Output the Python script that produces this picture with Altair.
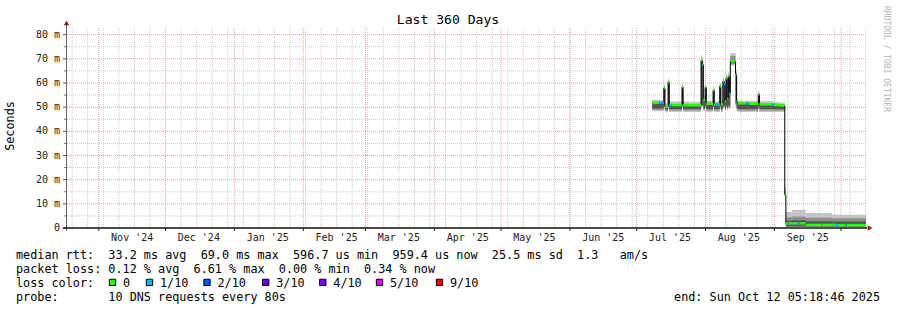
import altair as alt
import pandas as pd

START = pd.Timestamp("2024-10-17 05:18:46")
SPAN_DAYS = 360

# ---------------- data ----------------
times = [
    "2025-07-08 00:00:00", "2025-07-11 00:00:00", "2025-07-13 06:00:00", "2025-07-13 18:00:00",
    "2025-07-15 04:00:00", "2025-07-15 16:00:00", "2025-07-16 18:00:00", "2025-07-21 10:00:00",
    "2025-07-21 22:00:00", "2025-07-30 00:00:00", "2025-07-30 12:00:00", "2025-07-31 00:00:00",
    "2025-07-31 20:00:00", "2025-08-01 08:00:00", "2025-08-04 10:00:00", "2025-08-04 22:00:00",
    "2025-08-05 12:00:00", "2025-08-07 00:00:00", "2025-08-07 10:00:00", "2025-08-07 22:00:00",
    "2025-08-08 20:00:00", "2025-08-09 08:00:00", "2025-08-09 20:00:00", "2025-08-10 06:00:00",
    "2025-08-10 18:00:00", "2025-08-11 06:00:00", "2025-08-11 18:00:00", "2025-08-12 04:00:00",
    "2025-08-14 12:00:00", "2025-08-15 00:00:00", "2025-08-15 12:00:00", "2025-08-19 12:00:00",
    "2025-08-20 12:00:00", "2025-08-24 18:00:00", "2025-08-25 06:00:00", "2025-08-31 06:00:00",
    "2025-08-31 22:00:00", "2025-09-03 00:00:00", "2025-09-05 16:00:00", "2025-09-06 04:00:00",
    "2025-09-07 00:00:00", "2025-09-07 12:00:00", "2025-09-09 00:00:00", "2025-09-11 12:00:00",
    "2025-09-12 06:00:00", "2025-09-15 00:00:00", "2025-09-22 00:00:00", "2025-09-22 12:00:00",
    "2025-09-27 00:00:00", "2025-09-28 06:00:00", "2025-09-29 18:00:00", "2025-10-03 00:00:00",
    "2025-10-03 12:00:00", "2025-10-12 05:18:46",
]
median_ms = [
    51.8, 51.9, 57.9, 50.3, 60.3, 50.9, 50.9, 58.3, 50.8, 69.4, 67.6, 53.0,
    58.2, 51.4, 57.0, 51.1, 51.1, 51.1, 58.6, 51.3, 60.7, 59.4, 52.5, 62.0,
    53.5, 62.7, 55.8, 69.0, 63.6, 52.4, 51.6, 51.6, 51.4, 55.2, 51.2, 51.0,
    50.9, 50.7, 13.8, 1.9, 1.9, 1.9, 1.9, 1.9, 1.9, 1.3, 1.3, 1.3,
    1.3, 1.2, 1.2, 1.2, 1.2, 1.2,
]
loss_tenths = [
    0, 1, 0, 0, 0, 1, 0, 0, 0, 0, 1, 0,
    0, 0, 0, 0, 1, 0, 0, 0, 0, 1, 0, 0,
    0, 0, 1, 0, 0, 0, 0, 1, 0, 0, 0, 1,
    0, 0, 0, 0, 1, 0, 0, 1, 0, 0, 1, 0,
    0, 1, 0, 1, 0, 0,
]
smoke_light_lo = [
    48.3, 48.3, 49.5, 47.9, 49.5, 48.0, 48.0, 49.5, 48.0, 50.0, 50.0, 48.5,
    49.5, 48.0, 49.5, 48.0, 48.0, 48.0, 49.5, 48.0, 49.5, 49.5, 48.5, 49.8,
    48.8, 49.8, 49.3, 67.2, 50.5, 48.5, 48.0, 48.0, 48.0, 49.3, 48.0, 48.0,
    48.0, 48.0, 12.8, 0.6, 0.6, 0.6, 0.6, 0.6, 0.6, 0.6, 0.6, 0.6,
    0.6, 0.6, 0.6, 0.6, 0.6, 0.6,
]
smoke_light_hi = [
    53.0, 53.0, 59.4, 51.6, 61.8, 52.3, 52.3, 59.8, 52.2, 71.5, 69.5, 54.5,
    59.7, 52.6, 58.5, 52.4, 52.4, 52.4, 60.1, 52.5, 62.2, 60.9, 54.0, 63.8,
    55.0, 64.5, 57.5, 72.4, 65.5, 53.8, 52.7, 52.7, 52.6, 56.7, 52.4, 52.2,
    52.1, 51.9, 17.0, 6.6, 6.6, 6.6, 7.6, 7.6, 7.6, 6.2, 6.2, 6.2,
    5.5, 5.5, 5.5, 5.5, 5.5, 5.5,
]
smoke_mid_lo = [
    48.9, 48.9, 50.0, 48.5, 50.0, 48.6, 48.6, 50.0, 48.6, 50.5, 50.5, 49.0,
    50.0, 48.6, 50.0, 48.6, 48.6, 48.6, 50.0, 48.6, 50.0, 50.0, 49.0, 50.3,
    49.3, 50.3, 49.8, 67.8, 51.0, 49.0, 48.6, 48.6, 48.6, 49.8, 48.6, 48.6,
    48.6, 48.6, 13.2, 0.6, 0.6, 0.6, 0.6, 0.6, 0.6, 0.6, 0.6, 0.6,
    0.6, 0.6, 0.6, 0.6, 0.6, 0.6,
]
smoke_mid_hi = [
    52.2, 52.2, 58.7, 50.8, 61.0, 51.3, 51.3, 59.0, 51.2, 70.4, 68.5, 53.6,
    58.9, 51.8, 57.7, 51.5, 51.5, 51.5, 59.3, 51.7, 61.4, 60.1, 53.2, 62.8,
    54.2, 63.5, 56.6, 71.3, 64.5, 53.0, 52.0, 52.0, 51.8, 55.9, 51.6, 51.4,
    51.3, 51.1, 15.8, 4.4, 4.4, 4.4, 4.8, 4.8, 4.8, 4.2, 4.2, 4.2,
    4.0, 4.0, 4.0, 4.0, 4.0, 4.0,
]
smoke_dark_lo = [
    49.5, 49.5, 50.6, 49.1, 50.6, 49.2, 49.2, 50.6, 49.2, 51.0, 51.0, 49.6,
    50.6, 49.2, 50.6, 49.2, 49.2, 49.2, 50.6, 49.2, 50.6, 50.6, 49.6, 50.8,
    49.8, 50.8, 50.3, 68.3, 51.5, 49.6, 49.2, 49.2, 49.2, 50.3, 49.2, 49.2,
    49.2, 49.2, 13.5, 0.6, 0.6, 0.6, 0.6, 0.6, 0.6, 0.6, 0.6, 0.6,
    0.6, 0.6, 0.6, 0.6, 0.6, 0.6,
]
smoke_dark_hi = [
    51.6, 51.7, 57.9, 50.2, 60.3, 50.8, 50.8, 58.3, 50.7, 69.4, 67.6, 52.9,
    58.2, 51.3, 57.0, 51.0, 51.0, 51.0, 58.6, 51.2, 60.7, 59.4, 52.4, 62.0,
    53.4, 62.7, 55.7, 69.0, 63.6, 52.3, 51.5, 51.5, 51.3, 55.2, 51.1, 50.9,
    50.8, 50.6, 14.6, 3.0, 3.0, 3.0, 3.2, 3.2, 3.2, 2.8, 2.8, 2.8,
    2.7, 2.7, 2.7, 2.7, 2.7, 2.7,
]

month_starts = ["2024-11-01", "2024-12-01", "2025-01-01", "2025-02-01", "2025-03-01",
                "2025-04-01", "2025-05-01", "2025-06-01", "2025-07-01", "2025-08-01",
                "2025-09-01", "2025-10-01"]
month_labels = ["Nov '24", "Dec '24", "Jan '25", "Feb '25", "Mar '25", "Apr '25",
                "May '25", "Jun '25", "Jul '25", "Aug '25", "Sep '25"]
y_major = [0, 10, 20, 30, 40, 50, 60, 70, 80]
y_major_labels = ["0", "10 m", "20 m", "30 m", "40 m", "50 m", "60 m", "70 m", "80 m"]
y_minor = [5, 15, 25, 35, 45, 55, 65, 75]

loss_legend_labels = ["0", "1/10", "2/10", "3/10", "4/10", "5/10", "9/10"]
loss_legend_colors = ["#26ff00", "#00b8ff", "#0059ff", "#5e00ff", "#7e00ff", "#dd00ff", "#ff0000"]
loss_levels = [0, 1, 2, 3, 4, 5, 9]

legend_lines = [
    "median rtt:  33.2 ms avg  69.0 ms max  596.7 us min  959.4 us now  25.5 ms sd  1.3   am/s",
    "packet loss: 0.12 % avg  6.61 % max  0.00 % min  0.34 % now",
    "loss color:",
    "probe:       10 DNS requests every 80s",
]
end_text = "end: Sun Oct 12 05:18:46 2025"
title_text = "Last 360 Days"
y_title = "Seconds"
watermark = "RRDTOOL / TOBI OETIKER"

# ---------------- layout / style ----------------
W, H = 800, 200
PAD_L, PAD_T = 66, 28
MONO = "DejaVu Sans Mono"
legend_label_x = [123, 160, 217.5, 276.2, 333.3, 390, 450]


def to_days(values):
    ts = pd.to_datetime(pd.Series(list(values)).astype(str), format="mixed")
    return ((ts - START) / pd.Timedelta(days=1)).tolist()


def nb(s):
    return s.replace(" ", "\u00a0")


df = pd.DataFrame({
    "d": to_days(times), "median": median_ms, "loss": loss_tenths,
    "l_lo": smoke_light_lo, "l_hi": smoke_light_hi,
    "m_lo": smoke_mid_lo, "m_hi": smoke_mid_hi,
    "k_lo": smoke_dark_lo, "k_hi": smoke_dark_hi,
})
df["d_next"] = df["d"].shift(-1)
seg = df.iloc[:-1].copy()

xs = alt.Scale(domain=[0, SPAN_DAYS], nice=False, zero=False)
ys = alt.Scale(domain=[0, 82.76], nice=False, zero=False)

months_df = pd.DataFrame({"d": to_days(month_starts)})
mlab_df = pd.DataFrame({
    "d": [v + 15 for v in to_days(month_starts[:len(month_labels)])],
    "lab": [nb(s) for s in month_labels],
})
sundays = pd.date_range("2024-10-20", "2025-10-12", freq="7D").strftime("%Y-%m-%d")
weeks_df = pd.DataFrame({"d": to_days(sundays)})
ymaj_df = pd.DataFrame({"v": y_major, "lab": y_major_labels})
ymin_df = pd.DataFrame({"v": y_minor})

layers = []

# grid
layers.append(alt.Chart(ymin_df).mark_rule(color="#c8c8c8", strokeDash=[1, 1], strokeWidth=1).encode(
    y=alt.Y("v:Q", scale=ys, axis=None)))
layers.append(alt.Chart(weeks_df).mark_rule(color="#c8c8c8", strokeDash=[1, 1], strokeWidth=1).encode(
    x=alt.X("d:Q", scale=xs, axis=None)))
layers.append(alt.Chart(ymaj_df[ymaj_df.v > 0]).mark_rule(color="#e8a0a0", strokeDash=[1, 1], strokeWidth=1).encode(
    y=alt.Y("v:Q", scale=ys, axis=None)))
layers.append(alt.Chart(months_df).mark_rule(color="#f2a0a0", strokeDash=[1, 1], strokeWidth=1).encode(
    x=alt.X("d:Q", scale=xs, axis=None)))


def band(lo, hi, color):
    return alt.Chart(df).mark_area(interpolate="step-after", color=color, opacity=1).encode(
        x=alt.X("d:Q", scale=xs, axis=None),
        y=alt.Y(f"{lo}:Q", scale=ys, axis=None),
        y2=f"{hi}:Q",
    )


layers.append(band("l_lo", "l_hi", "#c4c4c4"))
layers.append(band("m_lo", "m_hi", "#8e8e8e"))
layers.append(band("k_lo", "k_hi", "#555555"))

# median line (black) + loss-coloured segments
layers.append(alt.Chart(df).mark_line(interpolate="step-after", color="#000000", strokeWidth=1).encode(
    x=alt.X("d:Q", scale=xs, axis=None),
    y=alt.Y("median:Q", scale=ys, axis=None),
))
layers.append(alt.Chart(seg).mark_rule(strokeWidth=2.5).encode(
    x=alt.X("d:Q", scale=xs, axis=None),
    x2="d_next:Q",
    y=alt.Y("median:Q", scale=ys, axis=None),
    color=alt.Color("loss:N", scale=alt.Scale(domain=loss_levels, range=loss_legend_colors), legend=None),
))

# axes
layers.append(alt.Chart(ymin_df).mark_rule(color="#777777").encode(
    y=alt.Y("v:Q", scale=ys, axis=None), x=alt.value(-2), x2=alt.value(0)))
layers.append(alt.Chart(ymaj_df).mark_rule(color="#555555").encode(
    y=alt.Y("v:Q", scale=ys, axis=None), x=alt.value(-3), x2=alt.value(0)))
layers.append(alt.Chart(months_df).mark_rule(color="#222222").encode(
    x=alt.X("d:Q", scale=xs, axis=None), y=alt.value(H), y2=alt.value(H + 3)))
layers.append(alt.Chart(pd.DataFrame({"a": [0]})).mark_rule(color="#666666", strokeWidth=1).encode(
    x=alt.value(0.5), y=alt.value(-4), y2=alt.value(H + 3)))
layers.append(alt.Chart(pd.DataFrame({"a": [0]})).mark_rule(color="#111111", strokeWidth=1.5).encode(
    x=alt.value(-3), x2=alt.value(W + 1), y=alt.value(H)))
layers.append(alt.Chart(pd.DataFrame({"a": [0]})).mark_point(
    shape="triangle-up", filled=True, color="#8b1a1a", size=28, opacity=1).encode(
    x=alt.value(0.5), y=alt.value(-5)))
layers.append(alt.Chart(pd.DataFrame({"a": [0]})).mark_point(
    shape="triangle-right", filled=True, color="#8b1a1a", size=28, opacity=1).encode(
    x=alt.value(W + 4), y=alt.value(H)))

# axis labels
layers.append(alt.Chart(ymaj_df).mark_text(font=MONO, fontSize=10, align="right", baseline="middle",
                                            color="#222222").encode(
    y=alt.Y("v:Q", scale=ys, axis=None), x=alt.value(-6), text="lab:N"))
layers.append(alt.Chart(mlab_df).mark_text(
    font=MONO, fontSize=10, align="center", baseline="middle", color="#222222").encode(
    x=alt.X("d:Q", scale=xs, axis=None), y=alt.value(H + 10), text="lab:N"))


def txt(s, x, y, size=11.8, align="left", angle=0, color="#000000"):
    return alt.Chart(pd.DataFrame({"t": [nb(s)]})).mark_text(
        font=MONO, fontSize=size, align=align, baseline="middle", angle=angle, color=color).encode(
        x=alt.value(x), y=alt.value(y), text="t:N")


layers.append(txt(title_text, 448 - PAD_L, 20 - PAD_T, size=13.1, align="center"))
layers.append(txt(y_title, 10 - PAD_L, 126 - PAD_T, align="center", angle=270))
layers.append(txt(watermark, 886 - PAD_L, 59 - PAD_T, size=8, align="center", angle=90, color="#b4b4b4"))
for i, line in enumerate(legend_lines):
    layers.append(txt(line, 16 - PAD_L, 254.7 - PAD_T + 14 * i))
layers.append(txt(end_text, 880 - PAD_L, 296.7 - PAD_T, align="right"))

leg_df = pd.DataFrame({
    "lab": loss_legend_labels,
    "col": loss_legend_colors,
    "lx": [v - PAD_L for v in legend_label_x],
    "bx": [v - PAD_L - 10.5 for v in legend_label_x],
})
layers.append(alt.Chart(leg_df).mark_square(size=40, filled=True, stroke="#000000", strokeWidth=1, opacity=1).encode(
    x=alt.X("bx:Q", scale=None), y=alt.value(282.4 - PAD_T), fill=alt.Fill("col:N", scale=None)))
layers.append(alt.Chart(leg_df).mark_text(font=MONO, fontSize=11.8, align="left", baseline="middle",
                                           color="#000000").encode(
    x=alt.X("lx:Q", scale=None), y=alt.value(282.7 - PAD_T), text="lab:N"))

chart = alt.layer(*layers).properties(
    width=W, height=H,
    autosize=alt.AutoSizeParams(type="none"),
    padding={"left": PAD_L, "top": PAD_T, "right": 897 - PAD_L - W, "bottom": 310 - PAD_T - H},
    background="#ffffff",
).configure_view(stroke=None)

chart.save("out.html", embed_options={"renderer": "svg", "actions": False})
